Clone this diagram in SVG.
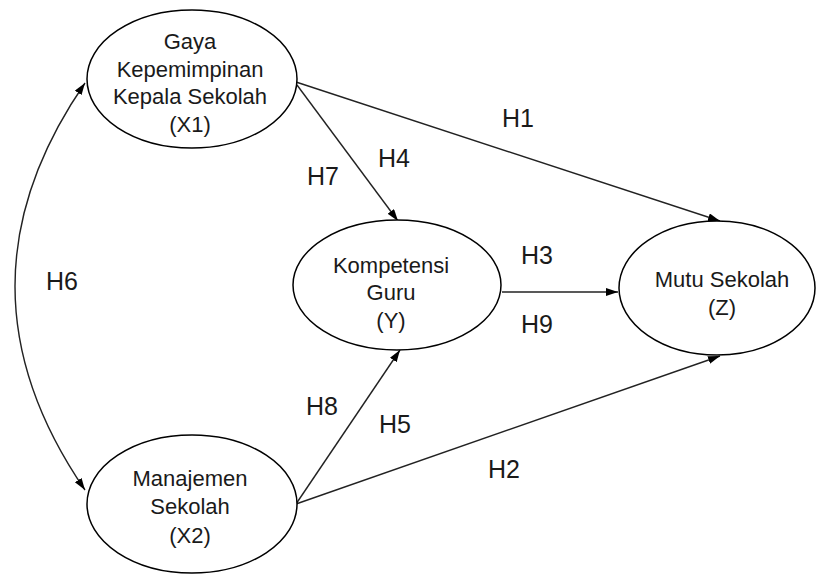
<svg xmlns="http://www.w3.org/2000/svg" width="817" height="575" viewBox="0 0 817 575">
<style>
.node ellipse{fill:#fff;stroke:#000;stroke-width:1.5}
.node text{font-family:"Liberation Sans",Arial,sans-serif;font-size:22px;fill:#1a1a1a;text-anchor:middle}
.lbl{font-family:"Liberation Sans",Arial,sans-serif;font-size:25px;fill:#1a1a1a;text-anchor:middle}
.edge{fill:none;stroke:#222;stroke-width:1.4}
</style>
<defs>
<marker id="ah" markerWidth="13" markerHeight="9" refX="12" refY="4" orient="auto-start-reverse" markerUnits="userSpaceOnUse">
<path d="M0,0 L12,4 L0,8 z" fill="#000"/>
</marker>
</defs>
<rect width="817" height="575" fill="#fff"/>
<g id="connectors">
<path class="edge" d="M85,83 Q-55,286 85,490" marker-start="url(#ah)" marker-end="url(#ah)"/>
<path class="edge" d="M296,82 L720,221" marker-end="url(#ah)"/>
<path class="edge" d="M297,85 L398,221" marker-end="url(#ah)"/>
<path class="edge" d="M502,292 L618,292" marker-end="url(#ah)"/>
<path class="edge" d="M296,504 L400,350" marker-end="url(#ah)"/>
<path class="edge" d="M296,504 L720,356" marker-end="url(#ah)"/>
<text class="lbl" x="518" y="127">H1</text>
<text class="lbl" x="323" y="185">H7</text>
<text class="lbl" x="394" y="167">H4</text>
<text class="lbl" x="537" y="264">H3</text>
<text class="lbl" x="537" y="333">H9</text>
<text class="lbl" x="62" y="290">H6</text>
<text class="lbl" x="322" y="415">H8</text>
<text class="lbl" x="395" y="433">H5</text>
<text class="lbl" x="504" y="478">H2</text>
</g>
<g id="x1" class="node">
<ellipse cx="192" cy="79" rx="105" ry="69"/>
<text x="190" y="49">Gaya</text>
<text x="190" y="77">Kepemimpinan</text>
<text x="190" y="104">Kepala Sekolah</text>
<text x="190" y="132">(X1)</text>
</g>
<g id="y" class="node">
<ellipse cx="397" cy="285" rx="104" ry="65"/>
<text x="391" y="273">Kompetensi</text>
<text x="391" y="300">Guru</text>
<text x="391" y="328">(Y)</text>
</g>
<g id="z" class="node">
<ellipse cx="717" cy="288" rx="98" ry="67"/>
<text x="722" y="287">Mutu Sekolah</text>
<text x="722" y="315">(Z)</text>
</g>
<g id="x2" class="node">
<ellipse cx="192" cy="504" rx="105" ry="69"/>
<text x="190" y="486">Manajemen</text>
<text x="190" y="514">Sekolah</text>
<text x="190" y="543">(X2)</text>
</g>
</svg>
